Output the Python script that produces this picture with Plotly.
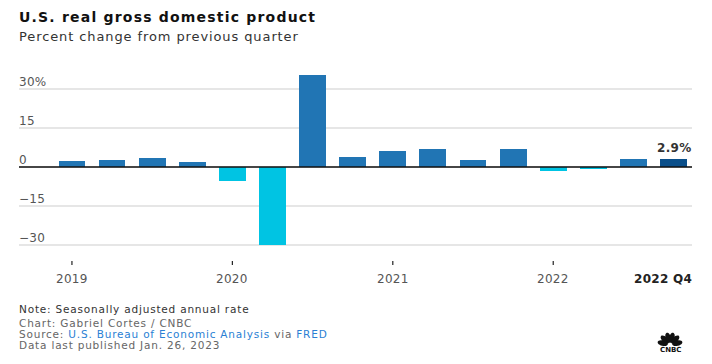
import math
import plotly.graph_objects as go

quarters = ["2019 Q1", "2019 Q2", "2019 Q3", "2019 Q4",
            "2020 Q1", "2020 Q2", "2020 Q3", "2020 Q4",
            "2021 Q1", "2021 Q2", "2021 Q3", "2021 Q4",
            "2022 Q1", "2022 Q2", "2022 Q3", "2022 Q4"]
gdp_change = [2.2, 2.7, 3.6, 1.8,
              -5.3, -29.9, 35.3, 3.9,
              6.3, 7.0, 2.7, 7.0,
              -1.6, -0.6, 3.2, 2.9]
year_ticks = ["2019", "2020", "2021", "2022"]
year_tick_idx = [0, 4, 8, 12]
y_grid = [30, 15, 0, -15, -30]
y_grid_labels = ["30%", "15", "0", "\u221215", "\u221230"]

POS = "#2175b4"
NEG = "#00c4e3"
LAST = "#0a4f8a"
FONT = "'DejaVu Sans', sans-serif"


def ls(text, px):
    return "<span style='letter-spacing:%.2fpx'>%s</span>" % (px, text)


x_idx = list(range(len(quarters)))
colors = [LAST if i == len(quarters) - 1 else (POS if v >= 0 else NEG)
          for i, v in enumerate(gdp_change)]

fig = go.Figure()
fig.add_trace(go.Bar(
    x=x_idx, y=gdp_change, width=0.67,
    marker=dict(color=colors, line=dict(width=0)),
    hovertext=quarters, hoverinfo="text+y",
))

L, R, T, B = 19, 20, 70, 109
W, H = 712, 364
pw, ph = W - L - R, H - T - B


def P(px, py):
    return ((px - L) / pw, (H - B - py) / ph)


annotations = []
shapes = []

# y grid labels above gridlines
for v, lab in zip(y_grid, y_grid_labels):
    annotations.append(dict(x=0, xref="paper", y=v, yref="y", text=ls(lab, 0.3),
                            showarrow=False, xanchor="left", yanchor="bottom",
                            yshift=-2, xshift=-2,
                            font=dict(size=12, color="#555", family=FONT)))

# x year ticks
for idx, lab in zip(year_tick_idx, year_ticks):
    annotations.append(dict(x=idx, xref="x", y=P(0, 278.5)[1], yref="paper", text=ls(lab, 0.3),
                            showarrow=False, xanchor="center", yanchor="middle",
                            font=dict(size=12, color="#555", family=FONT)))
    shapes.append(dict(type="line", xref="x", yref="paper", x0=idx, x1=idx,
                       y0=P(0, 261)[1], y1=P(0, 265)[1],
                       line=dict(color="#222", width=1.2)))

annotations.append(dict(x=1, xref="paper", y=P(0, 278.5)[1], yref="paper",
                        text="<b>" + ls("2022 Q4", 0.3) + "</b>",
                        showarrow=False, xanchor="right", yanchor="middle", xshift=2,
                        font=dict(size=12, color="#222", family=FONT)))

# value label for last bar
annotations.append(dict(x=len(quarters) - 1, xref="x", y=gdp_change[-1], yref="y",
                        text="<b>" + ls("%.1f%%" % gdp_change[-1], 0.3) + "</b>", showarrow=False,
                        xanchor="center", yanchor="bottom", yshift=2,
                        font=dict(size=12, color="#333", family=FONT)))

# zero line
shapes.append(dict(type="line", xref="paper", yref="y", x0=0, x1=1, y0=0, y1=0,
                   line=dict(color="#111", width=1.5), layer="above"))

# title / subtitle
annotations.append(dict(x=P(17, 0)[0], xref="paper", y=P(0, 17)[1], yref="paper",
                        text="<b>" + ls("U.S. real gross domestic product", 1.2) + "</b>",
                        showarrow=False, xanchor="left", yanchor="middle",
                        font=dict(size=14, color="#111", family=FONT)))
annotations.append(dict(x=P(17, 0)[0], xref="paper", y=P(0, 36)[1], yref="paper",
                        text=ls("Percent change from previous quarter", 0.9), showarrow=False,
                        xanchor="left", yanchor="middle",
                        font=dict(size=13, color="#333", family=FONT)))

# footer
BLUE = "#2a7fd4"
footer = [
    (308.5, "Note: Seasonally adjusted annual rate", "#333"),
    (322.5, "Chart: Gabriel Cortes / CNBC", "#666"),
    (333.5, "Source: <span style='color:%s'>U.S. Bureau of Economic Analysis</span> via "
            "<span style='color:%s'>FRED</span>" % (BLUE, BLUE), "#666"),
    (344.5, "Data last published Jan. 26, 2023", "#666"),
]
for py, txt, col in footer:
    annotations.append(dict(x=P(17, 0)[0], xref="paper", y=P(0, py)[1], yref="paper",
                            text=ls(txt, 0.8), showarrow=False, xanchor="left", yanchor="middle",
                            font=dict(size=10.5, color=col, family=FONT)))

# CNBC peacock logo (decorative)
cx, cy = 670, 345
for ang in [166, 134, 104, 76, 46, 14]:
    a = math.radians(ang)
    ex, ey = cx + 7.5 * math.cos(a), cy - 7.5 * math.sin(a)
    pts = []
    for k in range(24):
        t = 2 * math.pi * k / 24
        u, w = 5.2 * math.cos(t), 2.7 * math.sin(t)
        px = ex + u * math.cos(a) - w * math.sin(a)
        py = ey - (u * math.sin(a) + w * math.cos(a))
        pts.append(P(px, py))
    path = "M " + " L ".join("%.5f,%.5f" % p for p in pts) + " Z"
    shapes.append(dict(type="path", xref="paper", yref="paper", path=path,
                       fillcolor="#111", line=dict(width=0)))
annotations.append(dict(x=P(670, 0)[0], xref="paper", y=P(0, 349.5)[1], yref="paper",
                        text="<b>CNBC</b>", showarrow=False, xanchor="center", yanchor="middle",
                        font=dict(size=7, color="#111", family=FONT)))

fig.update_layout(
    width=W, height=H,
    margin=dict(l=L, r=R, t=T, b=B),
    paper_bgcolor="white", plot_bgcolor="white",
    showlegend=False, bargap=0,
    font=dict(family=FONT),
    xaxis=dict(range=[-1.32, 15.46], showgrid=False, zeroline=False,
               showticklabels=False, ticks="", showline=False, fixedrange=True),
    yaxis=dict(range=[-(H - B - 167) / 2.6, (167 - T) / 2.6], tickvals=y_grid,
               showticklabels=False, ticks="", showgrid=True, gridcolor="#e6e6e6",
               gridwidth=1.5, zeroline=False, showline=False, fixedrange=True),
    annotations=annotations, shapes=shapes,
)

fig.write_html("out.html", config={"displayModeBar": False},
               post_script="document.body.style.margin='0';document.body.style.padding='0';")
